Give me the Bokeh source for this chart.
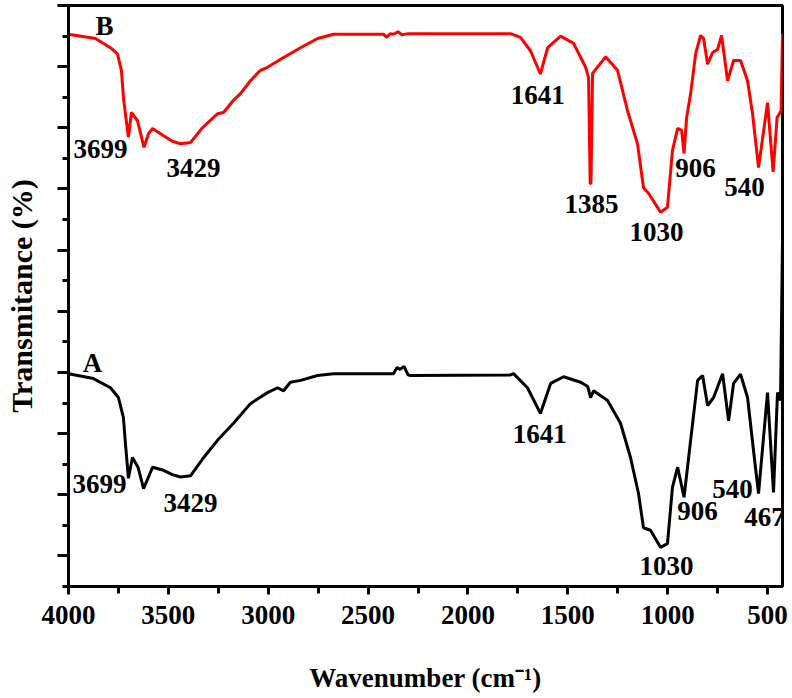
from bokeh.plotting import figure
from bokeh.models import Range1d, FixedTicker, ColumnDataSource
from bokeh.core.properties import value
from bokeh.embed import file_html
from bokeh.resources import INLINE

# ---- data ----
wn_B = [4000, 3865, 3790, 3755, 3735, 3725, 3712, 3700, 3685, 3655, 3622, 3600, 3579,
        3524, 3480, 3439, 3389, 3330, 3254, 3224, 3174, 3139, 3089, 3039, 3004, 2923, 2838,
        2753, 2673, 2423, 2405, 2390, 2373, 2350, 2330, 2300, 1787, 1737, 1687, 1637,
        1601, 1536, 1471, 1411, 1396, 1388, 1384, 1376, 1311, 1251, 1201, 1151, 1121,
        1096, 1051, 1036, 1001, 976, 950, 930, 918, 905, 885, 860, 835, 820, 800, 775,
        750, 730, 700, 670, 635, 600, 575, 545, 500, 472, 452, 432, 425]
T_B = [90.3, 89.6, 88.1, 87.1, 84.4, 80.0, 76.5, 73.5, 77.5, 76.2, 71.8, 74.0, 74.9,
       73.7, 72.8, 72.4, 72.6, 75.0, 77.3, 77.5, 79.5, 80.6, 82.7, 84.4, 84.9, 86.5, 88.1,
       89.6, 90.3, 90.3, 89.8, 90.4, 90.3, 90.7, 90.2, 90.4, 90.4, 89.8, 87.6, 83.8,
       88.1, 90.0, 88.8, 84.9, 83.2, 65.9, 65.9, 83.9, 86.6, 84.4, 77.8, 72.4, 65.2,
       64.3, 62.0, 61.2, 62.0, 71.3, 74.9, 74.6, 70.8, 76.7, 80.6, 87.1, 90.1, 89.6,
       85.4, 87.3, 87.8, 90.1, 82.7, 86.0, 86.0, 82.7, 77.3, 68.5, 79.1, 67.8, 76.7,
       77.8, 90.4]

wn_A = [4000, 3875, 3790, 3750, 3725, 3715, 3700, 3680, 3652, 3624, 3579, 3524, 3480, 3439,
        3389, 3330, 3254, 3174, 3089, 3004, 2953, 2923, 2889, 2838, 2753, 2673, 2373,
        2355, 2340, 2320, 2300, 2287, 1787, 1772, 1702, 1637, 1586, 1521, 1436, 1400,
        1386, 1371, 1301, 1236, 1186, 1146, 1121, 1086, 1036, 1001, 976, 950, 918, 885,
        850, 825, 800, 770, 725, 695, 670, 635, 600, 570, 545, 500, 470, 450, 435, 425]
T_A = [34.8, 34.0, 32.5, 30.9, 27.6, 23.4, 17.7, 21.1, 19.5, 16.0, 19.5, 19.0, 18.3, 17.9,
       18.1, 20.8, 23.9, 26.7, 29.9, 31.7, 32.5, 32.0, 33.4, 33.7, 34.5, 34.8, 34.8,
       35.8, 35.5, 36.0, 34.6, 34.5, 34.6, 34.8, 32.5, 28.3, 33.2, 34.3, 33.4, 32.7,
       30.9, 32.0, 30.4, 26.7, 21.1, 15.2, 9.6, 9.2, 6.4, 7.0, 16.2, 19.5, 14.6, 23.9,
       33.7, 34.5, 29.6, 30.9, 34.8, 27.1, 33.2, 34.7, 30.9, 22.2, 15.2, 31.7, 15.4,
       31.7, 30.4, 56.6]

# peak / curve labels (text, wavenumber, transmittance)
lab_B = ["B", "3699", "3429", "1641", "1385", "1030", "906", "540"]
lab_B_x = [3820, 3840, 3374, 1651, 1381, 1056, 860, 615]
lab_B_y = [91.6, 71.6, 68.5, 80.4, 62.6, 58.0, 68.5, 65.4]

lab_A = ["A", "3699", "3429", "1641", "1030", "906", "540", "467"]
lab_A_x = [3880, 3845, 3389, 1641, 1006, 850, 675, 515]
lab_A_y = [36.5, 16.8, 13.7, 24.9, 3.4, 12.4, 15.9, 11.3]

x_major = [4000, 3500, 3000, 2500, 2000, 1500, 1000, 500]
x_minor = [3750, 3250, 2750, 2250, 1750, 1250, 750]
y_major = [5, 15, 25, 35, 45, 55, 65, 75, 85, 95]
y_minor = [0, 10, 20, 30, 40, 50, 60, 70, 80, 90]

FONT = "Liberation Serif"

p = figure(frame_width=714, frame_height=581, output_backend="svg", toolbar_location=None,
           x_range=Range1d(4000, 425), y_range=Range1d(0, 95),
           min_border_left=68, min_border_right=10, min_border_top=5, min_border_bottom=112)
p.background_fill_color = "white"
p.border_fill_color = "white"
p.grid.visible = False
p.outline_line_color = "black"
p.outline_line_width = 3

p.line(wn_B, T_B, line_color="#ff0000", line_width=3)
p.line(wn_A, T_A, line_color="black", line_width=3)

src_B = ColumnDataSource(dict(x=lab_B_x, y=lab_B_y, t=lab_B))
src_A = ColumnDataSource(dict(x=lab_A_x, y=lab_A_y, t=lab_A))
for src in (src_B, src_A):
    p.text(x="x", y="y", text="t", source=src, text_font=value(FONT),
           text_font_style="bold", text_font_size="27px", text_color="black",
           text_align="center", text_baseline="middle")

xa = p.xaxis[0]
xa.ticker = FixedTicker(ticks=x_major, minor_ticks=x_minor)
xa.axis_label = "Wavenumber (cm\u207b\u00b9)"
xa.axis_label_text_font = FONT
xa.axis_label_text_font_style = "bold"
xa.axis_label_text_font_size = "27px"
xa.axis_label_text_color = "black"
xa.axis_label_standoff = 36
xa.major_label_text_font = FONT
xa.major_label_text_font_style = "bold"
xa.major_label_text_font_size = "27px"
xa.major_label_text_color = "black"
xa.major_label_standoff = 11
xa.axis_line_width = 3
xa.major_tick_line_width = 3
xa.minor_tick_line_width = 3
xa.major_tick_in = 0
xa.major_tick_out = 8
xa.minor_tick_in = 0
xa.minor_tick_out = 7

ya = p.yaxis[0]
ya.ticker = FixedTicker(ticks=y_major, minor_ticks=y_minor)
ya.major_label_overrides = {t: "" for t in y_major}
ya.major_label_standoff = 0
ya.axis_label = "Transmitance (%)"
ya.axis_label_text_font = FONT
ya.axis_label_text_font_style = "bold"
ya.axis_label_text_font_size = "30px"
ya.axis_label_text_color = "black"
ya.axis_label_standoff = 20
ya.axis_line_width = 3
ya.major_tick_line_width = 3
ya.minor_tick_line_width = 3
ya.major_tick_in = 0
ya.major_tick_out = 11
ya.minor_tick_in = 0
ya.minor_tick_out = 6

open("out.html", "w").write(file_html(p, INLINE))
